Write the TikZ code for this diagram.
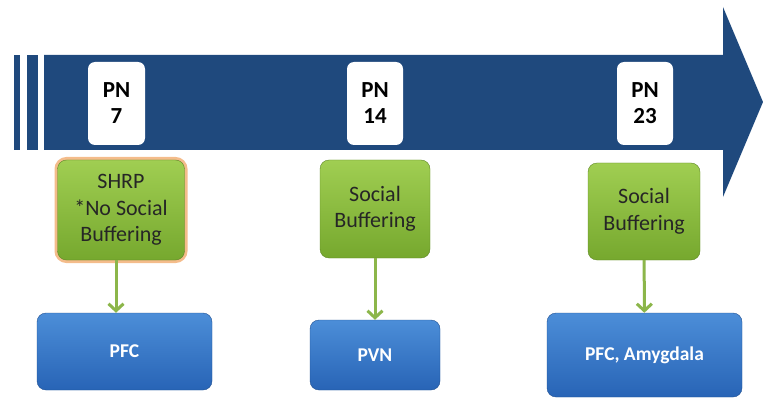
\documentclass[tikz,border=0pt]{standalone}
\usepackage{fontspec}
\setmainfont{Carlito}
\usetikzlibrary{arrows.meta}
\definecolor{bandblue}{RGB}{31,73,125}
\definecolor{leaftop}{RGB}{160,206,82}
\definecolor{leafbot}{RGB}{118,168,46}
\definecolor{boxtop}{RGB}{76,142,216}
\definecolor{boxbot}{RGB}{40,100,182}
\definecolor{linkgreen}{RGB}{140,182,74}
\definecolor{glow}{RGB}{240,165,100}
\tikzset{
  pnbox/.style={fill=white, rounded corners=7pt, align=center, inner sep=0pt,
    font=\fontsize{23}{26}\selectfont\bfseries},
  leafbox/.style={top color=leaftop, bottom color=leafbot, draw=leafbot!80!black,
    line width=0.4pt, rounded corners=9pt, align=center, inner sep=0pt,
    text=black!85, font=\fontsize{22}{26.5}\selectfont},
  areabox/.style={top color=boxtop, bottom color=boxbot, draw=boxbot!80!black,
    line width=0.4pt, rounded corners=9pt, align=center, inner sep=0pt,
    text=white, font=\fontsize{19.5}{22}\selectfont\bfseries},
  link/.style={draw=linkgreen, line width=3pt, -{Straight Barb[length=7pt,width=15pt]}}
}
\begin{document}
\begin{tikzpicture}[x=1pt,y=-1pt]
  \useasboundingbox (0,0) rectangle (763,401);
  % tidslinje
  \fill[bandblue] (14,55) rectangle (20,150);
  \fill[bandblue] (27,55) rectangle (38,150);
  \fill[bandblue] (44,55) -- (723,55) -- (723,7) -- (763,102) -- (723,197)
    -- (723,150) -- (44,150) -- cycle;
  % alder
  \node[pnbox, minimum width=57pt, minimum height=83pt] (pn7) at (116.5,103.5) {PN\\7};
  \node[pnbox, minimum width=56pt, minimum height=83pt] (pn14) at (375,103.5) {PN\\14};
  \node[pnbox, minimum width=56pt, minimum height=83pt] (pn23) at (645,103.5) {PN\\23};
  % tilstand
  \node[leafbox, minimum width=127pt, minimum height=100pt,
    preaction={draw=glow, line width=6pt, opacity=0.75}] (shrp) at (121,210)
    {SHRP\\*No Social\\Buffering};
  \node[leafbox, minimum width=110pt, minimum height=98pt] (buf14) at (375,209)
    {Social\\Buffering};
  \node[leafbox, minimum width=112pt, minimum height=97pt] (buf23) at (644,211.5)
    {Social\\Buffering};
  % hjerneomraader
  \node[areabox, minimum width=175pt, minimum height=77pt] (pfc) at (124.5,351.5) {PFC};
  \node[areabox, minimum width=130pt, minimum height=70pt] (pvn) at (375,355) {PVN};
  \node[areabox, minimum width=195pt, minimum height=84pt] (amyg) at (644.5,355)
    {PFC, Amygdala};
  % piler
  \draw[link] ([xshift=-5pt]shrp.south) -- ([xshift=-8.5pt]pfc.north);
  \draw[link] (buf14) -- (pvn);
  \draw[link] (buf23) -- (amyg);
\end{tikzpicture}
\end{document}
